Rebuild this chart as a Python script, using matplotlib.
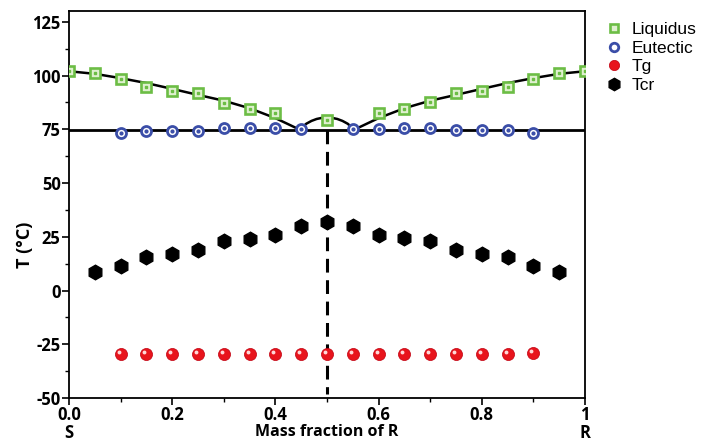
import numpy as np
import matplotlib.pyplot as plt
from matplotlib import transforms
from matplotlib.ticker import MultipleLocator

# mass fraction of R
x_liq = [0.0, 0.05, 0.1, 0.15, 0.2, 0.25, 0.3, 0.35, 0.4, 0.5,
         0.6, 0.65, 0.7, 0.75, 0.8, 0.85, 0.9, 0.95, 1.0]
liquidus = [102, 101, 98.5, 94.9, 92.6, 92.1, 87.4, 84.4, 82.8, 79.5,
            82.8, 84.4, 87.9, 92.1, 92.6, 94.9, 98.5, 101, 102]

x_eut = [0.1, 0.15, 0.2, 0.25, 0.3, 0.35, 0.4, 0.45,
         0.55, 0.6, 0.65, 0.7, 0.75, 0.8, 0.85, 0.9]
eutectic = [73.2, 74.4, 74.4, 74.4, 75.5, 75.5, 75.5, 75.0,
            75.0, 75.3, 75.5, 75.5, 74.5, 74.5, 74.5, 73.2]

x_tg = [0.1, 0.15, 0.2, 0.25, 0.3, 0.35, 0.4, 0.45, 0.5,
        0.55, 0.6, 0.65, 0.7, 0.75, 0.8, 0.85, 0.9]
tg = [-29.5, -29.5, -29.5, -29.5, -29.5, -29.5, -29.5, -29.5, -29.5,
      -29.5, -29.5, -29.5, -29.5, -29.5, -29.5, -29.5, -29.0]

x_tcr = [0.05, 0.1, 0.15, 0.2, 0.25, 0.3, 0.35, 0.4, 0.45, 0.5,
         0.55, 0.6, 0.65, 0.7, 0.75, 0.8, 0.85, 0.9, 0.95]
tcr = [8.8, 11.4, 15.8, 17.0, 19.0, 22.9, 24.0, 25.6, 29.8, 31.8,
       29.8, 25.6, 24.3, 22.9, 19.0, 17.0, 15.8, 11.4, 8.8]

# fitted liquidus curves
fit_left_x = [0.0, 0.05, 0.1, 0.15, 0.2, 0.25, 0.3, 0.35, 0.4, 0.45]
fit_left_y = [102.0, 100.8, 98.8, 96.5, 93.8, 91.0, 88.3, 84.8, 80.2, 74.5]
fit_right_x = [0.55, 0.6, 0.65, 0.7, 0.75, 0.8, 0.85, 0.9, 0.95, 1.0]
fit_right_y = [74.5, 80.2, 84.8, 88.3, 91.0, 93.8, 96.5, 98.8, 100.8, 102.0]
arc_x = [0.45, 0.452, 0.46, 0.47, 0.48, 0.49, 0.5, 0.51, 0.52, 0.53, 0.54, 0.548, 0.55]
arc_y = [74.5, 76.0, 77.6, 78.9, 79.8, 80.3, 80.5, 80.3, 79.8, 78.9, 77.6, 76.0, 74.5]
eutectic_T = 74.5

xticks = [0.0, 0.2, 0.4, 0.6, 0.8, 1.0]
xtick_labels = ['0.0\nS', '0.2', '0.4', '0.6', '0.8', '1\nR']
yticks = [-50, -25, 0, 25, 50, 75, 100, 125]

fig = plt.figure(figsize=(7.06, 4.42), dpi=100)
ax = fig.add_axes([0.0977, 0.0995, 0.7309, 0.8755])

# lines
ax.plot(fit_left_x, fit_left_y, color='black', lw=1.8, zorder=2)
ax.plot(fit_right_x, fit_right_y, color='black', lw=1.8, zorder=2)
ax.plot(arc_x, arc_y, color='black', lw=1.8, zorder=2)
ax.axhline(eutectic_T, color='black', lw=2.0, zorder=2)
ax.plot([0.5, 0.5], [eutectic_T, -48], color='black', lw=2.2,
        dashes=(4.5, 2.5), zorder=1)

# Liquidus
green = '#6cbd45'
ax.plot(x_liq, liquidus, 's', ms=7.0, mfc='#dff0cf', mec=green, mew=1.9,
        zorder=4, label='Liquidus')
ax.plot(x_liq, liquidus, 's', ms=1.8, color=green, zorder=5)

# Eutectic
blue = '#3b4ea8'
ax.plot(x_eut, eutectic, 'o', ms=7.2, mfc='white', mec=blue, mew=2.0,
        zorder=4, label='Eutectic')
ax.plot(x_eut, eutectic, 'o', ms=2.0, color=blue, zorder=5)

# Tg (shaded spheres)
ax.plot(x_tg, tg, 'o', ms=8.7, color='#e8141c', mec='#c00010', mew=0.5,
        zorder=4, label='Tg')
hl = transforms.offset_copy(ax.transData, fig=fig, x=-1.4, y=1.4, units='points')
ax.plot(x_tg, tg, 'o', ms=2.8, color='#ffd8d8', mew=0, transform=hl, zorder=5)

# Tcr
ax.plot(x_tcr, tcr, 'h', ms=10.5, color='black', zorder=4, label='Tcr')

ax.set_xlim(0, 1)
ax.set_ylim(-50, 130)
ax.set_xticks(xticks)
ax.set_xticklabels(xtick_labels, fontfamily='Open Sans', fontweight='bold',
                   fontsize=12, linespacing=1.0)
ax.set_yticks(yticks)
ax.set_yticklabels([str(v) for v in yticks], fontfamily='Open Sans',
                   fontweight='bold', fontsize=12)
ax.xaxis.set_minor_locator(MultipleLocator(0.1))
ax.yaxis.set_minor_locator(MultipleLocator(12.5))
ax.tick_params(which='major', length=5, width=1.2, pad=1)
ax.tick_params(which='minor', length=3, width=1.0)
for s in ax.spines.values():
    s.set_linewidth(1.3)

ax.set_xlabel('Mass fraction of R', fontfamily='Open Sans', fontweight='bold',
              fontsize=11.5, va='bottom')
ax.xaxis.set_label_coords(0.5, -0.108)
ax.set_ylabel('T (\u00b0C)', fontfamily='Open Sans', fontweight='bold', fontsize=13)
ax.yaxis.set_label_coords(-0.068, 0.395)

h, l = ax.get_legend_handles_labels()
ax.legend(h, l, loc='upper left', bbox_to_anchor=(1.01, 1.012), frameon=False,
          prop={'family': 'Liberation Sans', 'size': 12.5}, handlelength=1.0,
          handletextpad=0.5, labelspacing=0.2, markerscale=0.85)

fig.savefig('out.png', dpi=100)
